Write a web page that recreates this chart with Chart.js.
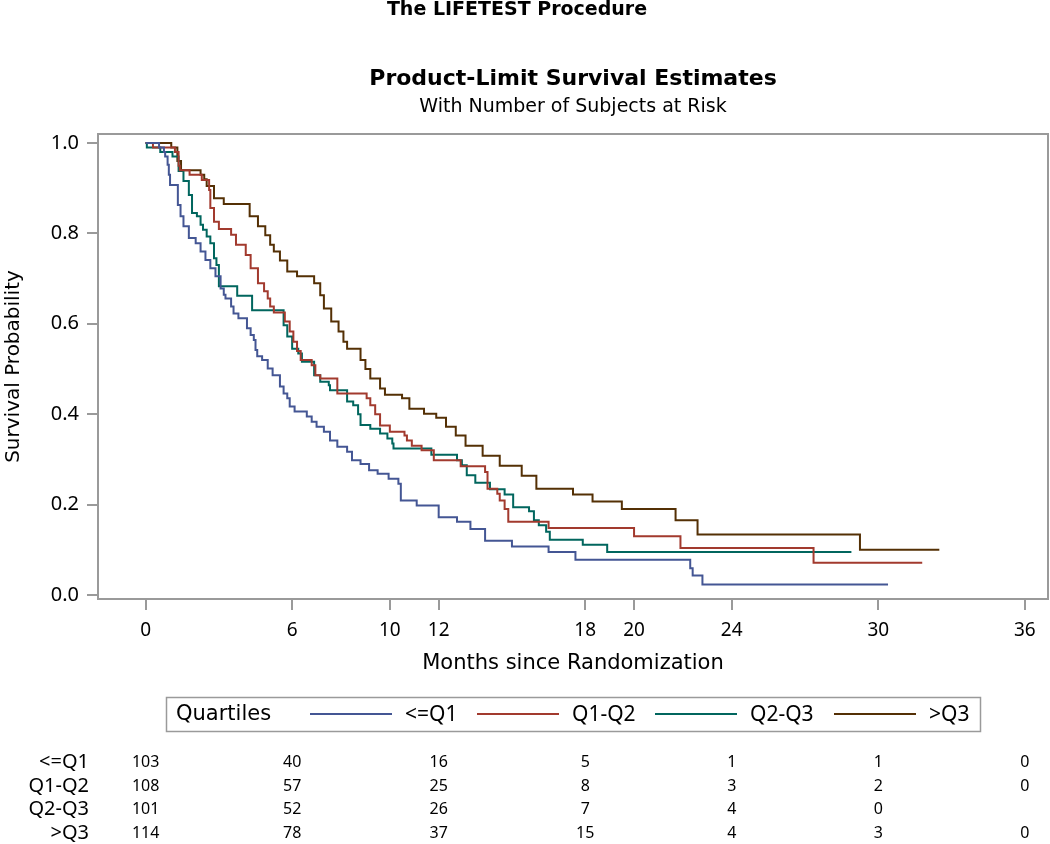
<!DOCTYPE html>
<html>
<head>
<meta charset="utf-8">
<script src="https://cdn.jsdelivr.net/npm/chart.js@4.4.1/dist/chart.umd.min.js"></script>
<style>
  body { margin: 0; background: #fff; }
  canvas { display: block; }
</style>
</head>
<body>
<canvas id="chart" width="1050" height="844"></canvas>
<script>
// 📋 Quartile groups
const quartileNames = ["<=Q1", "Q1-Q2", "Q2-Q3", ">Q3"];

// 📉 Kaplan-Meier steps (months, survival after each drop)
const q1Months = [0, 0.55, 0.75, 0.8, 0.9, 0.95, 1.0, 1.32, 1.43, 1.55, 1.77, 2.05, 2.25, 2.45, 2.65, 2.86, 3.07, 3.2, 3.27, 3.5, 3.6, 3.8, 4.15, 4.3, 4.43, 4.5, 4.57, 4.77, 5.0, 5.2, 5.5, 5.65, 5.8, 5.9, 6.1, 6.6, 6.8, 7.0, 7.3, 7.55, 7.85, 8.25, 8.45, 8.8, 9.15, 9.5, 9.95, 10.35, 10.45, 11.1, 12.0, 12.75, 13.3, 13.9, 15.0, 16.5, 17.6, 22.3, 22.4, 22.8, 30.4];
const q1Surv = [1.0, 0.99, 0.98, 0.97, 0.952, 0.93, 0.907, 0.863, 0.838, 0.816, 0.79, 0.778, 0.76, 0.741, 0.723, 0.705, 0.678, 0.664, 0.656, 0.638, 0.623, 0.612, 0.59, 0.575, 0.564, 0.542, 0.528, 0.52, 0.501, 0.486, 0.461, 0.446, 0.435, 0.417, 0.406, 0.395, 0.383, 0.372, 0.361, 0.342, 0.328, 0.317, 0.298, 0.29, 0.276, 0.268, 0.257, 0.246, 0.209, 0.198, 0.172, 0.162, 0.146, 0.12, 0.107, 0.095, 0.078, 0.059, 0.043, 0.023, 0.023];

const q2Months = [0, 0.3, 1.2, 1.35, 1.4, 1.8, 2.3, 2.6, 2.65, 2.8, 3.0, 3.5, 3.7, 4.1, 4.3, 4.6, 4.85, 5.0, 5.1, 5.25, 5.7, 5.9, 6.05, 6.2, 6.35, 6.8, 6.95, 7.15, 7.85, 9.05, 9.2, 9.4, 9.6, 10.0, 10.6, 10.7, 10.9, 11.3, 11.8, 12.9, 13.9, 14.0, 14.4, 14.5, 14.7, 14.85, 16.5, 20.0, 21.9, 27.35, 31.8];
const q2Surv = [1.0, 0.99, 0.98, 0.95, 0.94, 0.93, 0.918, 0.896, 0.856, 0.826, 0.81, 0.797, 0.775, 0.752, 0.723, 0.69, 0.672, 0.656, 0.638, 0.625, 0.605, 0.583, 0.56, 0.54, 0.52, 0.508, 0.486, 0.479, 0.446, 0.435, 0.42, 0.40, 0.375, 0.361, 0.353, 0.342, 0.33, 0.32, 0.298, 0.285, 0.272, 0.235, 0.224, 0.209, 0.19, 0.162, 0.148, 0.13, 0.104, 0.071, 0.071];

const q3Months = [0, 0.05, 0.6, 1.1, 1.35, 1.55, 1.77, 1.9, 2.1, 2.25, 2.35, 2.5, 2.65, 2.8, 2.9, 3.0, 3.75, 4.36, 5.65, 5.8, 6.0, 6.25, 6.4, 6.9, 7.15, 7.5, 7.55, 8.25, 8.5, 8.7, 8.8, 9.2, 9.6, 9.9, 10.1, 10.15, 11.7, 12.75, 12.95, 13.15, 13.5, 14.1, 14.7, 15.05, 15.7, 15.9, 16.1, 16.4, 16.55, 17.9, 18.9, 28.9];
const q3Surv = [1.0, 0.99, 0.98, 0.97, 0.938, 0.916, 0.885, 0.845, 0.838, 0.819, 0.808, 0.793, 0.778, 0.745, 0.73, 0.683, 0.662, 0.63, 0.597, 0.572, 0.545, 0.534, 0.516, 0.486, 0.472, 0.464, 0.453, 0.428, 0.42, 0.40, 0.376, 0.368, 0.357, 0.346, 0.335, 0.324, 0.31, 0.298, 0.287, 0.265, 0.248, 0.234, 0.222, 0.194, 0.185, 0.165, 0.154, 0.14, 0.122, 0.111, 0.095, 0.095];

const q4Months = [0, 1.05, 1.3, 1.45, 2.25, 2.4, 2.5, 2.8, 3.2, 4.26, 4.6, 4.9, 5.1, 5.25, 5.5, 5.8, 6.2, 6.9, 7.15, 7.3, 7.6, 7.9, 8.1, 8.25, 8.8, 9.0, 9.2, 9.6, 9.8, 10.5, 10.8, 11.4, 11.9, 12.3, 12.7, 13.1, 13.8, 14.5, 15.4, 16.0, 17.5, 18.3, 19.5, 21.7, 22.6, 29.25, 32.5];
const q4Surv = [1.0, 0.99, 0.96, 0.94, 0.93, 0.92, 0.905, 0.878, 0.865, 0.838, 0.816, 0.796, 0.775, 0.76, 0.74, 0.716, 0.705, 0.69, 0.663, 0.634, 0.605, 0.583, 0.56, 0.545, 0.52, 0.50, 0.479, 0.457, 0.443, 0.435, 0.412, 0.401, 0.392, 0.372, 0.353, 0.33, 0.308, 0.286, 0.264, 0.235, 0.222, 0.207, 0.19, 0.165, 0.134, 0.10, 0.10];

// 🔢 Number at risk
const riskTimes = [0, 6, 12, 18, 24, 30, 36];
const q1Risk = [103, 40, 16, 5, 1, 1, 0];
const q2Risk = [108, 57, 25, 8, 3, 2, 0];
const q3Risk = [101, 52, 26, 7, 4, 0, null];
const q4Risk = [114, 78, 37, 15, 4, 3, 0];

// 📏 Axis ticks
const xTicks = [0, 6, 10, 12, 18, 20, 24, 30, 36];
const yTicks = [0, 0.2, 0.4, 0.6, 0.8, 1.0];

const colors = ["#445694", "#A23A2E", "#01665E", "#543005"];
const frameColor = "#9a9a9a";
const fontFamily = "'Noto Sans', 'Open Sans', sans-serif";
const wideFont = "'DejaVu Sans', sans-serif";

function toPoints(months, surv) {
  return months.map((m, i) => ({ x: m, y: surv[i] }));
}

// 🖌️ Titles, frame, legend and at-risk table
const extras = {
  id: "extras",
  beforeDraw(chart) {
    const ctx = chart.ctx;
    ctx.save();
    ctx.fillStyle = "#fff";
    ctx.fillRect(0, 0, chart.width, chart.height);
    ctx.restore();
  },
  afterDraw(chart) {
    const ctx = chart.ctx;
    const area = chart.chartArea;
    const xScale = chart.scales.x;
    const midX = (area.left + area.right) / 2;

    ctx.save();
    ctx.fillStyle = "#000";
    ctx.textBaseline = "middle";
    ctx.textAlign = "center";

    ctx.font = "bold 19px " + wideFont;
    ctx.fillText("The LIFETEST Procedure", 517, 10);
    ctx.font = "bold 22px " + wideFont;
    ctx.fillText("Product-Limit Survival Estimates", midX, 79);
    ctx.font = "19px " + wideFont;
    ctx.fillText("With Number of Subjects at Risk", midX, 107);

    ctx.font = "21px " + wideFont;
    ctx.fillText("Months since Randomization", midX, 664);

    ctx.save();
    ctx.translate(14, (area.top + area.bottom) / 2);
    ctx.rotate(-Math.PI / 2);
    ctx.font = "20px " + wideFont;
    ctx.fillText("Survival Probability", 0, 0);
    ctx.restore();

    // frame
    ctx.strokeStyle = frameColor;
    ctx.lineWidth = 2;
    ctx.strokeRect(area.left, area.top, area.right - area.left, area.bottom - area.top);

    // legend
    ctx.lineWidth = 1.5;
    ctx.strokeRect(166.5, 697.5, 814, 34);
    ctx.textAlign = "left";
    ctx.font = "21px " + wideFont;
    ctx.fillText("Quartiles", 176, 715);
    ctx.font = "21px " + fontFamily;
    const sampleX = [310, 477, 655, 834];
    chart.data.datasets.forEach((ds, i) => {
      ctx.strokeStyle = ds.borderColor;
      ctx.lineWidth = 2;
      ctx.beginPath();
      ctx.moveTo(sampleX[i], 714);
      ctx.lineTo(sampleX[i] + 82, 714);
      ctx.stroke();
      ctx.fillText(ds.label, sampleX[i] + 95, 715);
    });

    // at-risk table
    const riskRows = [q1Risk, q2Risk, q3Risk, q4Risk];
    const rowY = [762, 786, 809, 833];
    riskRows.forEach((row, r) => {
      ctx.textAlign = "right";
      ctx.font = "20px " + fontFamily;
      ctx.fillText(quartileNames[r], 89, rowY[r]);
      ctx.textAlign = "center";
      ctx.font = "16px " + fontFamily;
      row.forEach((n, i) => {
        if (n === null) return;
        ctx.fillText(String(n), xScale.getPixelForValue(riskTimes[i]), rowY[r]);
      });
    });

    ctx.restore();
  }
};

const seriesMonths = [q1Months, q2Months, q3Months, q4Months];
const seriesSurv = [q1Surv, q2Surv, q3Surv, q4Surv];

const datasets = quartileNames.map((name, i) => ({
  label: name,
  data: toPoints(seriesMonths[i], seriesSurv[i]),
  borderColor: colors[i],
  backgroundColor: colors[i],
  borderWidth: 2,
  stepped: true,
  pointRadius: 0,
  fill: false
}));

const ctx = document.getElementById("chart").getContext("2d");

window.chart = new Chart(ctx, {
  type: "line",
  data: { datasets: datasets },
  options: {
    responsive: false,
    animation: false,
    layout: { padding: { top: 134, right: 2, left: 0, bottom: 0 } },
    plugins: {
      legend: { display: false },
      tooltip: { enabled: false }
    },
    scales: {
      x: {
        type: "linear",
        min: -1.95,
        max: 36.95,
        afterBuildTicks: s => { s.ticks = xTicks.map(v => ({ value: v })); },
        afterFit: s => { s.height = 245; },
        border: { display: false },
        grid: { drawOnChartArea: false, drawTicks: true, tickLength: 11, color: frameColor, lineWidth: 2 },
        ticks: {
          font: { family: fontFamily, size: 19 },
          color: "#000",
          padding: 9,
          maxRotation: 0,
          autoSkip: false,
          callback: v => String(v)
        }
      },
      y: {
        type: "linear",
        min: -0.009,
        max: 1.02,
        afterBuildTicks: s => { s.ticks = yTicks.map(v => ({ value: v })); },
        afterFit: s => { s.width = 98; },
        border: { display: false },
        grid: { drawOnChartArea: false, drawTicks: true, tickLength: 11, color: frameColor, lineWidth: 2 },
        ticks: {
          font: { family: fontFamily, size: 20 },
          color: "#000",
          padding: 8,
          callback: v => v.toFixed(1)
        }
      }
    }
  },
  plugins: [extras]
});
</script>
</body>
</html>
